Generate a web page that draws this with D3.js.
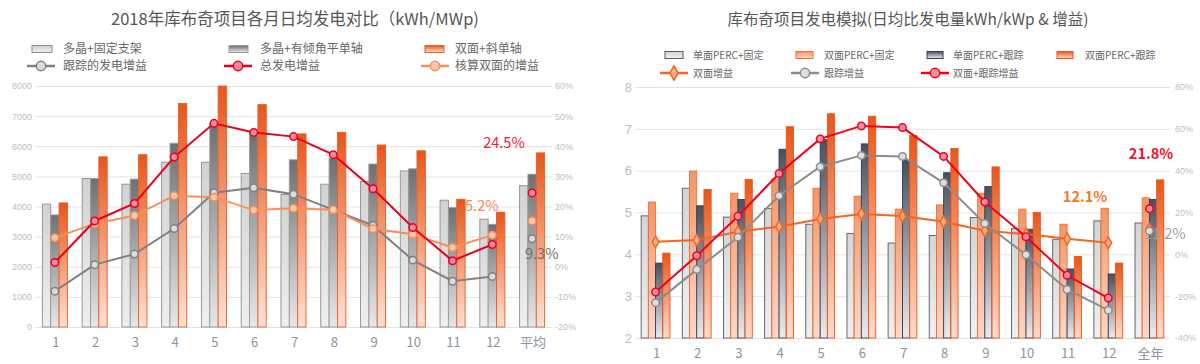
<!DOCTYPE html>
<html>
<head>
<meta charset="utf-8">
<script src="https://cdn.jsdelivr.net/npm/d3@7/dist/d3.min.js"></script>
<style>
  body { margin: 0; background: #fff; }
  svg { display: block; }
  text { font-family: "Noto Sans CJK SC", "Noto Sans", sans-serif; }
</style>
</head>
<body>
<svg id="chart" width="1200" height="364"></svg>
<script>
///////////////////////////////////////////////////////////////////////////////
// Data -- left chart (kWh/MWp per day, gains in %)

var leftCats = ["1", "2", "3", "4", "5", "6", "7", "8", "9", "10", "11", "12", "平均"];
var polyFixed = [4080, 4930, 4740, 5470, 5470, 5100, 4400, 4740, 4830, 5180, 4210, 3580, 4690];
var polyTrack = [3720, 4930, 4910, 6100, 6750, 6450, 5550, 5600, 5410, 5250, 3960, 3410, 5070];
var bifiTilt  = [4120, 5650, 5720, 7420, 8000, 7380, 6410, 6460, 6040, 5850, 4240, 3810, 5780];
var trackGain = [-8.1, 0.7, 4.2, 12.7, 24.6, 26.2, 24.1, 18.9, 13.7, 2.2, -4.8, -3.2, 9.3];
var totalGain = [1.4, 15.2, 21.0, 36.4, 47.6, 44.6, 43.2, 37.2, 25.9, 13.0, 2.0, 7.4, 24.5];
var bifiGain  = [9.6, 14.3, 17.0, 23.6, 23.1, 18.8, 19.4, 18.9, 12.6, 10.8, 6.4, 10.5, 15.2];
var leftTicks = [0, 1000, 2000, 3000, 4000, 5000, 6000, 7000, 8000];
var leftPctTicks = [-20, -10, 0, 10, 20, 30, 40, 50, 60];

///////////////////////////////////////////////////////////////////////////////
// Data -- right chart (kWh/kWp per day, gains in %)

var rightCats = ["1", "2", "3", "4", "5", "6", "7", "8", "9", "10", "11", "12", "全年"];
var monoFixed = [4.92, 5.58, 4.89, 5.10, 4.72, 4.50, 4.27, 4.45, 4.88, 4.62, 4.36, 4.80, 4.75];
var bifiFixed = [5.25, 5.99, 5.46, 5.80, 5.58, 5.39, 5.08, 5.18, 5.46, 5.08, 4.72, 5.10, 5.35];
var monoTrack = [3.79, 5.16, 5.31, 6.51, 6.74, 6.64, 6.24, 5.95, 5.62, 4.60, 3.65, 3.53, 5.31];
var bifiTrack = [4.03, 5.55, 5.79, 7.05, 7.36, 7.30, 6.84, 6.53, 6.09, 5.00, 3.95, 3.79, 5.78];
var bifiGainR  = [6.0, 6.8, 10.8, 13.2, 16.9, 19.3, 18.3, 15.6, 11.3, 9.7, 7.4, 5.5, 12.1];
var trackGainR = [-23.1, -7.3, 8.2, 28.0, 41.9, 47.3, 46.8, 34.2, 14.7, -0.2, -16.8, -26.7, 11.2];
var bothGainR  = [-18.0, -0.7, 18.2, 38.6, 55.2, 61.4, 60.6, 46.8, 25.0, 8.4, -10.0, -20.9, 21.8];
var rightTicks = [2, 3, 4, 5, 6, 7, 8];
var rightPctTicks = [-40, -20, 0, 20, 40, 60, 80];

var svg = d3.select("#chart");
var defs = svg.append("defs");

// vertical fade used by every bar
var addGrad = function (id, top, bottom) {
  var g = defs.append("linearGradient").attr("id", id)
    .attr("x1", 0).attr("y1", 0).attr("x2", 0).attr("y2", 1);
  g.append("stop").attr("offset", "0%").attr("stop-color", top);
  g.append("stop").attr("offset", "100%").attr("stop-color", bottom);
};
addGrad("gLight", "#d2d2d2", "#efefef");
addGrad("gDark", "#6f6f6f", "#e8e8e8");
addGrad("gOrange", "#e8561a", "#fde2d6");
addGrad("gLightR", "#d4d4d4", "#f0f0f0");
addGrad("gPeach", "#f2956a", "#fcd9c8");
addGrad("gNavy", "#4b505c", "#ececec");
addGrad("gOrangeR", "#e8561a", "#fddccc");

///////////////////////////////////////////////////////////////////////////////
// Generic chart

var drawChart = function (c) {
  var g = svg.append("g");

  var x = d3.scaleBand().domain(c.cats).range([c.left, c.right]).paddingInner(c.pad).paddingOuter(c.pad / 2);
  var x1 = d3.scaleBand().domain(d3.range(c.bars.length)).range([0, x.bandwidth()]);
  var y = d3.scaleLinear().domain(c.yDomain).range([c.bottom, c.top]);
  var y2 = d3.scaleLinear().domain(c.y2Domain).range([c.bottom, c.top]);

  // title
  g.append("text").attr("x", c.titleX).attr("y", 25).attr("text-anchor", "middle")
    .attr("font-size", c.titleFont).attr("fill", "#555").text(c.title);

  // gridlines
  g.append("g").selectAll("line").data(c.yTicks).join("line")
    .attr("x1", c.left).attr("x2", c.right)
    .attr("y1", function (d) { return y(d) + 0.5; })
    .attr("y2", function (d) { return y(d) + 0.5; })
    .attr("stroke", "#e3e3e3").attr("stroke-width", 1);

  // left axis
  var yAxis = g.append("g").attr("transform", "translate(" + c.yLabelX + ",0)")
    .call(d3.axisLeft(y).tickValues(c.yTicks).tickSize(0).tickPadding(0).tickFormat(d3.format("d")));
  yAxis.select(".domain").remove();
  yAxis.selectAll("text").attr("fill", "#bdbdbd").attr("font-size", c.yFont)
    .style("font-family", "'Liberation Sans', sans-serif");

  // right axis
  var y2Axis = g.append("g").attr("transform", "translate(" + c.y2LabelX + ",0)")
    .call(d3.axisRight(y2).tickValues(c.y2Ticks).tickSize(0).tickPadding(0)
      .tickFormat(function (d) { return d + "%"; }));
  y2Axis.select(".domain").remove();
  y2Axis.selectAll("text").attr("fill", "#bdbdbd").attr("font-size", 9)
    .style("font-family", "'Liberation Sans', sans-serif");

  // category labels
  g.append("g").selectAll("text").data(c.cats).join("text")
    .attr("x", function (d) { return x(d) + x.bandwidth() / 2 + 1; })
    .attr("y", c.bottom + 20).attr("text-anchor", "middle")
    .attr("font-size", 13).attr("fill", "#8894a0").text(function (d) { return d; });

  var callout = function (t) {
    g.append("text").attr("x", t.x).attr("y", t.y).attr("text-anchor", t.anchor || "middle")
      .attr("font-size", 14.5).attr("font-weight", t.bold ? "bold" : "normal")
      .attr("fill", t.color).text(t.text);
  };
  // some callouts sit under the bars, others over them
  c.callouts.filter(function (t) { return !t.over; }).forEach(callout);

  // bars
  c.bars.forEach(function (b, i) {
    g.append("g").selectAll("rect").data(b.values).join("rect")
      .attr("x", function (d, j) { return x(c.cats[j]) + x1(i); })
      .attr("y", function (d) { return y(Math.min(d, c.yDomain[1])); })
      .attr("width", x1.bandwidth())
      .attr("height", function (d) { return c.bottom - y(Math.min(d, c.yDomain[1])); })
      .attr("fill", "url(#" + b.grad + ")")
      .attr("stroke", b.stroke).attr("stroke-width", 0.9);
  });

  c.callouts.filter(function (t) { return t.over; }).forEach(callout);

  // gain lines, months only; the last category gets a lone marker
  var cx = function (j) { return x(c.cats[j]) + x.bandwidth() / 2; };
  c.lines.forEach(function (l) {
    var pts = l.values.map(function (d, j) { return [cx(j), y2(d)]; });
    g.append("path").attr("d", d3.line()(pts.slice(0, 12)))
      .attr("fill", "none").attr("stroke", l.color).attr("stroke-width", 2);
    g.append("g").selectAll("path").data(pts).join("path")
      .attr("transform", function (p) { return "translate(" + p[0] + "," + p[1] + ")"; })
      .attr("d", d3.symbol().type(l.diamond ? d3.symbolDiamond : d3.symbolCircle).size(l.diamond ? 40 : 44)())
      .attr("fill", l.fill).attr("stroke", l.color).attr("stroke-width", 1.5);
  });

  // legend
  c.legend.forEach(function (it) {
    var lg = g.append("g").attr("transform", "translate(" + it.x + "," + it.y + ")");
    if (it.grad) {
      lg.append("rect").attr("x", 0).attr("y", -3.5).attr("width", it.w).attr("height", 7)
        .attr("fill", "url(#" + it.grad + ")").attr("stroke", it.stroke).attr("stroke-width", 1);
    } else {
      lg.append("line").attr("x1", -3).attr("x2", it.w + 3).attr("y1", 0).attr("y2", 0)
        .attr("stroke", it.color).attr("stroke-width", 2.5);
      lg.append("path").attr("transform", "translate(" + it.w / 2 + ",0)")
        .attr("d", d3.symbol().type(it.diamond ? d3.symbolDiamond : d3.symbolCircle).size(it.diamond ? 60 : 70)())
        .attr("fill", it.fill).attr("stroke", it.color).attr("stroke-width", 1.5);
    }
    lg.append("text").attr("x", it.tx).attr("y", 0).attr("dy", "0.35em")
      .attr("font-size", c.legendFont).attr("fill", "#666").text(it.label);
  });
};

///////////////////////////////////////////////////////////////////////////////
// Left chart

drawChart({
  title: "2018年库布奇项目各月日均发电对比（kWh/MWp)",
  titleX: 295, titleFont: 16.5,
  cats: leftCats, left: 35, right: 552, top: 86, bottom: 327, pad: 0.37,
  yDomain: [0, 8000], yTicks: leftTicks, yLabelX: 32, yFont: 9,
  y2Domain: [-20, 60], y2Ticks: leftPctTicks, y2LabelX: 555,
  legendFont: 12,
  bars: [
    {values: polyFixed, grad: "gLight", stroke: "#8f8f8f"},
    {values: polyTrack, grad: "gDark", stroke: "#9a9a9a"},
    {values: bifiTilt, grad: "gOrange", stroke: "#ea5c20"}
  ],
  lines: [
    {values: trackGain, color: "#808080", fill: "#dcdcdc"},
    {values: bifiGain, color: "#f4905a", fill: "#fcc6aa"},
    {values: totalGain, color: "#e8001e", fill: "#f48a9a"}
  ],
  callouts: [
    {text: "24.5%", x: 504, y: 148, color: "#f0203a"},
    {text: "15.2%", x: 457, y: 211, color: "#f08a4a", anchor: "start"},
    {text: "9.3%", x: 525, y: 259, color: "#6e6e6e", anchor: "start", over: true}
  ],
  legend: [
    {label: "多晶+固定支架", x: 32, y: 49, w: 20, tx: 31, grad: "gLight", stroke: "#8f8f8f"},
    {label: "多晶+有倾角平单轴", x: 229, y: 49, w: 19, tx: 31, grad: "gDark", stroke: "#999"},
    {label: "双面+斜单轴", x: 425, y: 49, w: 19, tx: 30, grad: "gOrange", stroke: "#ea5c20"},
    {label: "跟踪的发电增益", x: 30, y: 66, w: 22, tx: 33, color: "#808080", fill: "#dcdcdc"},
    {label: "总发电增益", x: 227, y: 66, w: 22, tx: 33, color: "#e8001e", fill: "#f48a9a"},
    {label: "核算双面的增益", x: 424, y: 66, w: 22, tx: 31, color: "#f4905a", fill: "#fcc6aa"}
  ]
});

///////////////////////////////////////////////////////////////////////////////
// Right chart

drawChart({
  title: "库布奇项目发电模拟(日均比发电量kWh/kWp & 增益)",
  titleX: 908, titleFont: 15.5,
  cats: rightCats, left: 635, right: 1170, top: 87, bottom: 338, pad: 0.3,
  yDomain: [2, 8], yTicks: rightTicks, yLabelX: 632, yFont: 13,
  y2Domain: [-40, 80], y2Ticks: rightPctTicks, y2LabelX: 1175,
  legendFont: 10,
  bars: [
    {values: monoFixed, grad: "gLightR", stroke: "#5a5a5a"},
    {values: bifiFixed, grad: "gPeach", stroke: "#f07030"},
    {values: monoTrack, grad: "gNavy", stroke: "#2c3a66"},
    {values: bifiTrack, grad: "gOrangeR", stroke: "#e8561a"}
  ],
  lines: [
    {values: bifiGainR, color: "#f26522", fill: "#f9b08a", diamond: true},
    {values: trackGainR, color: "#8c8c8c", fill: "#dedede"},
    {values: bothGainR, color: "#f0001e", fill: "#f6909e"}
  ],
  callouts: [
    {text: "21.8%", x: 1151, y: 159, color: "#f0102e", bold: true},
    {text: "12.1%", x: 1085, y: 202, color: "#f07a30", bold: true},
    {text: "11.2%", x: 1144, y: 239, color: "#a0a0a0", anchor: "start", over: true}
  ],
  legend: [
    {label: "单面PERC+固定", x: 665, y: 55, w: 18, tx: 28, grad: "gLightR", stroke: "#5a5a5a"},
    {label: "双面PERC+固定", x: 796, y: 55, w: 17, tx: 28, grad: "gPeach", stroke: "#f07030"},
    {label: "单面PERC+跟踪", x: 927, y: 55, w: 16, tx: 26, grad: "gNavy", stroke: "#2c3a66"},
    {label: "双面PERC+跟踪", x: 1057, y: 55, w: 16, tx: 28, grad: "gOrangeR", stroke: "#e8561a"},
    {label: "双面增益", x: 663, y: 73, w: 22, tx: 30, color: "#f26522", fill: "#f9b08a", diamond: true},
    {label: "跟踪增益", x: 794, y: 73, w: 22, tx: 30, color: "#8c8c8c", fill: "#dedede"},
    {label: "双面+跟踪增益", x: 924, y: 73, w: 22, tx: 29, color: "#f0001e", fill: "#f6909e"}
  ]
});
</script>
</body>
</html>
